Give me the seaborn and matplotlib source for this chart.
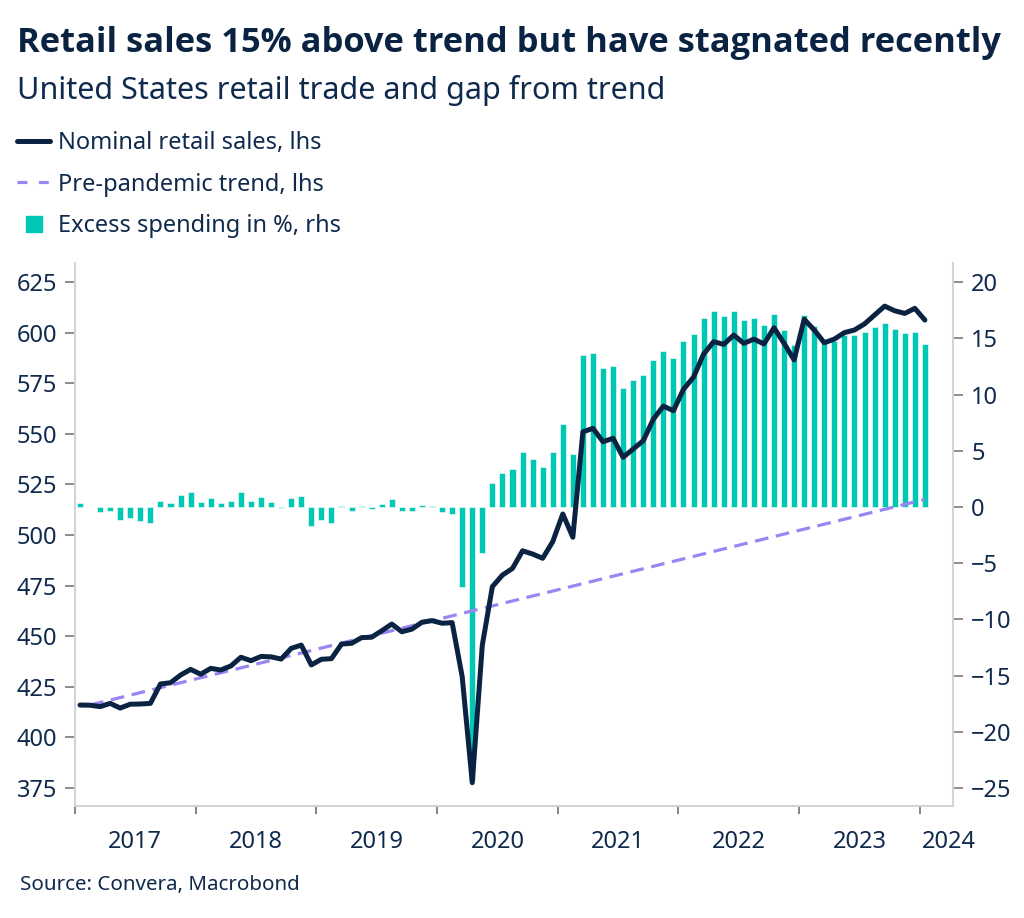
import numpy as np
import pandas as pd
import matplotlib
matplotlib.use("Agg")
import matplotlib.pyplot as plt
import seaborn as sns
from matplotlib.lines import Line2D

# monthly data, Jan 2017 - Jan 2024
months = pd.date_range("2017-01-01", periods=85, freq="MS")

retail_sales = [
    416.0, 415.9, 415.2, 416.8, 414.5, 416.4, 416.5, 416.8, 426.4, 427.0, 430.8, 433.6,
    431.2, 434.1, 433.3, 435.3, 439.6, 437.9, 440.0, 439.8, 438.7, 444.0, 445.6, 435.8,
    438.6, 438.9, 446.1, 446.5, 449.3, 449.5, 452.7, 456.0, 452.2, 453.5, 456.9, 457.7,
    456.4, 456.7, 430.0, 377.6, 445.6, 474.5, 480.2, 483.5, 492.2, 490.6, 488.5, 496.7,
    510.4, 498.9, 551.0, 552.7, 546.1, 547.8, 538.4, 542.5, 546.6, 557.2, 563.7, 561.4,
    572.0, 578.0, 589.4, 595.5, 594.2, 598.8, 594.7, 596.8, 594.4, 602.4, 594.7, 586.5,
    606.6, 601.3, 595.0, 596.8, 600.0, 601.3, 604.3, 608.7, 613.1, 610.8, 609.5, 612.0,
    606.2,
]

excess_pct = [
    0.36, 0.0, -0.45, -0.33, -1.2, -1.0, -1.27, -1.45, 0.5, 0.33, 1.04, 1.33,
    0.47, 0.83, 0.33, 0.5, 1.33, 0.56, 0.86, 0.41, -0.05, 0.8, 0.95, -1.66,
    -1.2, -1.42, 0.05, -0.33, 0.05, -0.2, 0.3, 0.74, -0.36, -0.36, 0.15, 0.12,
    -0.44, -0.65, -7.1, -24.3, -4.1, 2.13, 3.05, 3.35, 4.9, 4.27, 3.53, 4.92,
    7.35, 4.71, 13.54, 13.69, 12.33, 12.56, 10.6, 11.29, 11.73, 13.1, 13.87, 13.21,
    14.76, 15.38, 16.77, 17.42, 16.98, 17.42, 16.65, 16.77, 16.2, 17.19, 15.76, 14.37,
    17.1, 16.09, 14.8, 14.8, 15.26, 15.3, 15.56, 15.97, 16.36, 15.85, 15.47, 15.6,
    14.52,
]

trend_months = pd.to_datetime(["2017-02-01", "2024-01-01"])
trend_values = [416.0, 517.6]

year_labels = ["2017", "2018", "2019", "2020", "2021", "2022", "2023", "2024"]
left_ticks = [375, 400, 425, 450, 475, 500, 525, 550, 575, 600, 625]
right_ticks = [-25, -20, -15, -10, -5, 0, 5, 10, 15, 20]

NAVY = "#0b2342"
TEXT = "#0f2a4c"
TEAL = "#00c8b4"
LAVENDER = "#9a86f2"
SPINE = "#d4d4d4"
TICK = "#7a7a7a"


def month_index(dates):
    return (dates.year - 2017) * 12 + dates.month - 1


df = pd.DataFrame({
    "k": month_index(months),
    "sales": retail_sales,
    "excess": excess_pct,
})
trend_df = pd.DataFrame({"k": month_index(trend_months), "trend": trend_values})

sns.set_theme(style="white")
plt.rcParams["font.family"] = ["Noto Sans", "DejaVu Sans"]

fig = plt.figure(figsize=(10.24, 9.18), dpi=100)
ax = fig.add_axes([0.0732, 0.122, 0.8575, 0.5915])
ax2 = ax.twinx()

# bars on right axis
sns.barplot(data=df, x="k", y="excess", ax=ax2, native_scale=True, color=TEAL,
            saturation=1, width=0.6, errorbar=None, edgecolor="white", linewidth=0.4)

# lines on left axis, drawn above bars
sns.lineplot(data=trend_df, x="k", y="trend", ax=ax, color=LAVENDER, linewidth=2.3,
             linestyle=(0, (4.3, 2.4)))
sns.lineplot(data=df, x="k", y="sales", ax=ax, color=NAVY, linewidth=3.6)
ax.set_zorder(ax2.get_zorder() + 1)
ax.patch.set_visible(False)

ax.set_xlim(-0.5, 86.8)
ax.set_ylim(366.1, 634.4)
ax2.set_ylim(-26.6, 21.7)
ax.set_yticks(left_ticks)
ax2.set_yticks(right_ticks)
ax.set_xlabel("")
ax.set_ylabel("")
ax2.set_xlabel("")
ax2.set_ylabel("")

# year boundaries as ticks, labels in the middle of each year
ax.set_xticks([-0.5 + 12 * j for j in range(8)])
ax.set_xticklabels([])
ax.set_xticks([12 * j + 5.5 for j in range(7)] + [86.4], minor=True)
ax.set_xticklabels(year_labels, minor=True)
ax.tick_params(axis="x", which="major", bottom=True, length=6, width=1.3, color=TICK)
ax.tick_params(axis="x", which="minor", bottom=True, length=0, pad=17.5,
               labelsize=17, labelcolor=TEXT)
ax2.tick_params(axis="x", which="both", bottom=False, labelbottom=False)

ax.tick_params(axis="y", left=True, right=False, length=7, width=1.2, color=TICK,
               pad=6, labelsize=17, labelcolor=TEXT)
ax2.tick_params(axis="y", right=True, left=False, length=7, width=1.2, color=TICK,
                pad=6, labelsize=17, labelcolor=TEXT)

for side in ["top", "right"]:
    ax.spines[side].set_visible(False)
for side in ["top", "left", "bottom"]:
    ax2.spines[side].set_visible(False)
for sp in [ax.spines["left"], ax.spines["bottom"], ax2.spines["right"]]:
    sp.set_color(SPINE)
    sp.set_linewidth(1.5)
ax.grid(False)
ax2.grid(False)

# titles
fig.text(17 / 1024, 1 - 43 / 918, "Retail sales 15% above trend but have stagnated recently",
         fontsize=24.8, fontweight="bold", family=["Open Sans", "DejaVu Sans"],
         color=NAVY, va="center")
fig.text(17 / 1024, 1 - 90 / 918, "United States retail trade and gap from trend",
         fontsize=22, color=TEXT, va="center")

handles = [
    Line2D([], [], color=NAVY, linewidth=3.6),
    Line2D([], [], color=LAVENDER, linewidth=2.3, linestyle=(0, (3.1, 3.6))),
    Line2D([], [], color=TEAL, marker="s", markersize=11, linestyle="none"),
]
labels = ["Nominal retail sales, lhs", "Pre-pandemic trend, lhs", "Excess spending in %, rhs"]
leg = fig.legend(handles, labels, loc="upper left", bbox_to_anchor=(17 / 1024, 1 - 131 / 918),
                 frameon=False, fontsize=17, handlelength=1.4, handletextpad=0.35,
                 labelspacing=0.75, borderpad=0, borderaxespad=0)
for t in leg.get_texts():
    t.set_color(TEXT)

fig.text(20 / 1024, 1 - 885 / 918, "Source: Convera, Macrobond", fontsize=14.8,
         color=TEXT, va="center")

fig.savefig("out.png", dpi=100)
